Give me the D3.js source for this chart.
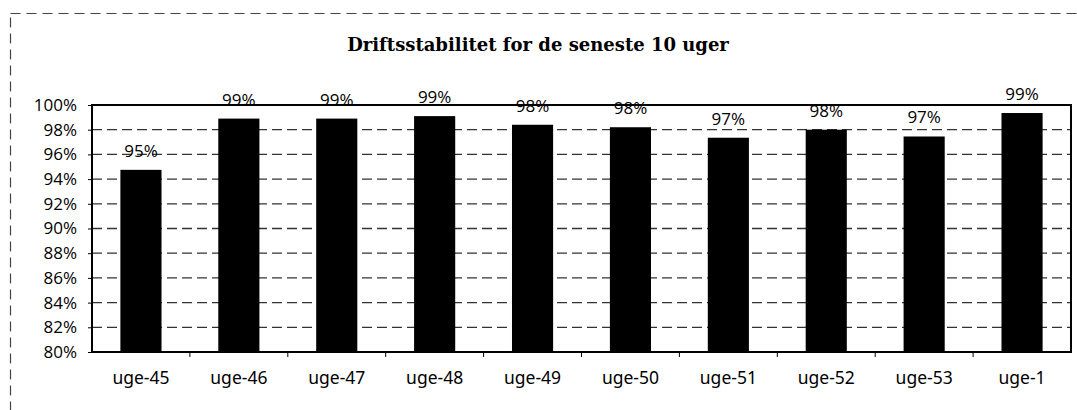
<!DOCTYPE html>
<html>
<head>
<meta charset="utf-8">
<script src="https://cdn.jsdelivr.net/npm/d3@7"></script>
<style>
  body { margin: 0; background: #fff; }
  svg { display: block; }
</style>
</head>
<body>
<div id="chart"></div>
<script>
// data
var weeks = ["uge-45", "uge-46", "uge-47", "uge-48", "uge-49", "uge-50", "uge-51", "uge-52", "uge-53", "uge-1"];
var stability = [94.75, 98.9, 98.9, 99.1, 98.4, 98.2, 97.35, 98.0, 97.45, 99.35];
var yTicks = [80, 82, 84, 86, 88, 90, 92, 94, 96, 98, 100];
var title = "Driftsstabilitet for de seneste 10 uger";

var W = 1077, H = 410;
var margin = {top: 105, right: 6, bottom: 58, left: 92},
    width = W - margin.left - margin.right,
    height = H - margin.top - margin.bottom;

var svg = d3.select("#chart").append("svg")
    .attr("width", W)
    .attr("height", H);

// dashed outer frame of the chart object
svg.append("rect")
    .attr("x", 10.5).attr("y", 13.5)
    .attr("width", W + 20).attr("height", H + 20)
    .attr("fill", "none")
    .attr("stroke", "#444")
    .attr("stroke-width", 1.2)
    .attr("stroke-dasharray", "10,6");

svg.append("text")
    .attr("x", 538).attr("y", 51)
    .attr("text-anchor", "middle")
    .style("font-family", "'DejaVu Serif', serif")
    .style("font-weight", "bold")
    .style("font-size", "18px")
    .text(title);

var g = svg.append("g")
    .attr("transform", "translate(" + margin.left + "," + margin.top + ")");

var x = d3.scaleBand()
    .domain(weeks)
    .range([0, width])
    .paddingInner(0.58)
    .paddingOuter(0.29);

var y = d3.scaleLinear()
    .domain([80, 100])
    .range([height, 0]);

// gridlines
g.selectAll(".grid")
    .data(yTicks.filter(function(d) { return d > 80 && d < 100; }))
  .enter().append("line")
    .attr("class", "grid")
    .attr("x1", 0).attr("x2", width)
    .attr("y1", function(d) { return y(d); })
    .attr("y2", function(d) { return y(d); })
    .attr("stroke", "#333")
    .attr("stroke-width", 1.3)
    .attr("stroke-dasharray", "10,5");

// bars
g.selectAll(".bar")
    .data(stability)
  .enter().append("rect")
    .attr("class", "bar")
    .attr("x", function(d, i) { return x(weeks[i]); })
    .attr("width", x.bandwidth())
    .attr("y", function(d) { return y(d); })
    .attr("height", function(d) { return height - y(d); })
    .attr("fill", "#000");

// value labels
g.selectAll(".val")
    .data(stability)
  .enter().append("text")
    .attr("class", "val")
    .attr("x", function(d, i) { return x(weeks[i]) + x.bandwidth() / 2; })
    .attr("y", function(d) { return y(d) - 13; })
    .attr("text-anchor", "middle")
    .style("font-family", "'Open Sans', sans-serif")
    .style("font-size", "17px")
    .text(function(d) { return Math.round(d) + "%"; });

// plot frame
g.append("rect")
    .attr("width", width).attr("height", height)
    .attr("fill", "none")
    .attr("stroke", "#000")
    .attr("stroke-width", 2);

// y axis
var yAxis = g.append("g")
    .call(d3.axisLeft(y).tickValues(yTicks).tickSize(4).tickPadding(11)
      .tickFormat(function(d) { return d + "%"; }));
yAxis.select(".domain").remove();
yAxis.selectAll("text")
    .style("font-family", "'Open Sans', sans-serif")
    .style("font-size", "17px")
    .attr("fill", "#000");

// x axis: ticks between categories
var xAxis = g.append("g")
    .attr("transform", "translate(0," + height + ")")
    .call(d3.axisBottom(x).tickSize(0).tickPadding(20));
xAxis.select(".domain").remove();
xAxis.selectAll("text")
    .style("font-family", "'Noto Sans', sans-serif")
    .style("font-size", "17.5px")
    .attr("fill", "#000");

g.selectAll(".xtick")
    .data(weeks.slice(1))
  .enter().append("line")
    .attr("class", "xtick")
    .attr("x1", function(d) { return x(d) - x.step() * x.paddingInner() / 2; })
    .attr("x2", function(d) { return x(d) - x.step() * x.paddingInner() / 2; })
    .attr("y1", height).attr("y2", height + 5)
    .attr("stroke", "#000");
</script>
</body>
</html>
